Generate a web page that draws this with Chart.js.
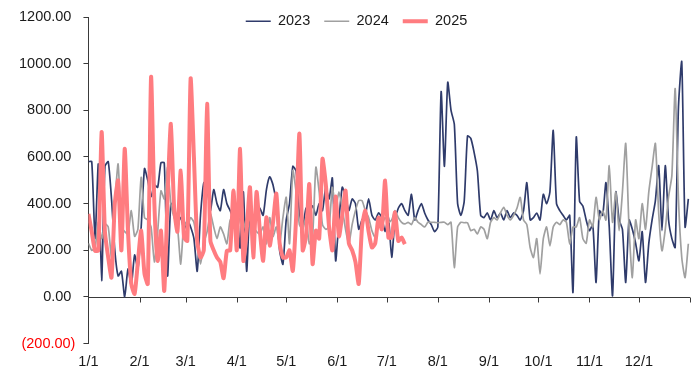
<!DOCTYPE html>
<html>
<head>
<meta charset="utf-8">
<script src="https://cdn.jsdelivr.net/npm/chart.js@4.4.1/dist/chart.umd.min.js"></script>
<style>
  html, body { margin: 0; padding: 0; background: #ffffff; }
  canvas { display: block; }
</style>
</head>
<body>
<canvas id="c" width="700" height="380"></canvas>
<script>
// ---------- data ----------
const seriesNames = ['2023', '2024', '2025'];
const dayStep = 2; // one value every 2 days, starting 1/1

const v2023 = [
  580,580,250,570,70,560,580,420,200,90,
  110,0,120,50,180,120,300,550,500,430,
  480,470,575,575,90,400,350,320,340,290,
  330,300,250,110,350,490,470,370,460,400,
  370,460,400,370,340,370,210,450,110,390,
  170,390,380,350,460,515,480,400,200,140,
  330,400,560,540,360,300,380,370,390,350,
  400,370,470,420,510,155,330,470,430,370,
  420,400,290,330,350,420,350,330,360,340,
  280,340,170,330,380,400,370,350,440,330,
  370,400,360,330,310,280,300,880,560,920,
  800,740,400,350,410,690,680,620,540,350,
  340,360,330,370,340,360,330,370,340,360,
  350,330,370,490,330,340,360,330,440,400,
  450,714,400,370,350,330,350,20,685,410,
  390,330,284,310,62,370,350,490,300,5,
  450,330,290,62,330,290,230,155,280,62,
  230,330,413,563,284,563,330,250,212,814,
  1008,300,420
];

const v2024 = [
  230,200,210,320,250,313,300,170,400,570,
  300,280,270,370,260,290,513,340,330,300,
  150,280,455,420,556,400,340,300,141,320,
  300,340,320,230,141,230,280,356,300,250,
  300,270,228,330,300,290,340,290,340,330,
  300,280,270,300,228,340,260,300,228,340,
  427,228,542,450,310,290,340,228,260,556,
  450,310,290,300,470,380,450,380,290,228,
  310,370,413,413,370,340,284,255,340,310,
  340,320,330,370,340,320,313,320,310,340,
  320,310,300,320,320,320,318,320,320,310,
  320,126,300,320,318,318,284,290,270,300,
  290,250,320,340,330,360,384,350,330,350,
  380,427,330,310,212,169,250,99,250,300,
  219,300,320,310,330,320,228,300,300,340,
  250,230,330,300,427,330,370,330,563,320,
  450,284,450,658,300,83,330,250,400,290,
  450,556,658,360,198,290,430,520,893,420,
  169,83,228
];

const v2025 = [
  356,280,198,200,707,280,169,83,400,499,
  200,635,280,56,13,150,284,100,56,943,
  400,155,284,26,427,742,380,280,542,255,
  240,936,599,240,169,200,828,240,200,169,
  150,80,198,200,456,200,635,155,284,470,
  169,450,284,155,341,220,320,443,230,169,
  169,200,112,340,700,200,260,484,141,284,
  250,592,484,300,200,430,260,350,456,230,
  200,150,56,300,370,280,212,230,340,290,
  499,255,255,363,240,255,226
];

const monthStartDays = [0,31,59,90,120,151,181,212,243,273,304,334];
const monthLabels = ['1/1','2/1','3/1','4/1','5/1','6/1','7/1','8/1','9/1','10/1','11/1','12/1'];
const yearEndDay = 365;
const yMin = -200, yMax = 1200, yStep = 200;

// ---------- styling ----------
const FONT = 'Liberation Sans, Arial, sans-serif';
const axisColor = '#3a3a3a';
const textColor = '#1a1a1a';
const colors = { '2023': '#2f3b6b', '2024': '#a0a0a0', '2025': '#ff7c80' };
const widths = { '2023': 1.7, '2024': 1.7, '2025': 4 };

const toPoints = arr => arr.map((v, i) => ({ x: i * dayStep, y: v }));
const allSeries = [v2023, v2024, v2025];

const datasets = seriesNames.map((name, i) => ({
  label: name,
  data: toPoints(allSeries[i]),
  borderColor: colors[name],
  backgroundColor: colors[name],
  borderWidth: widths[name],
  pointRadius: 0,
  tension: 0.2,
  order: 3 - i
}));

function fmt(v) {
  return v < 0 ? '(' + Math.abs(v).toFixed(2) + ')' : v.toFixed(2) + ' ';
}

const axisPlugin = {
  id: 'zeroAxis',
  beforeLayout(chart) {
    const lg = chart.legend;
    if (lg && !lg._patched) {
      const f = lg.fit;
      lg.fit = function () { f.call(this); this.height = 17; };
      const d = lg.draw;
      lg.draw = function () {
        const b = this.bottom;
        this.bottom = this.top + 40;
        this.ctx.save();
        this.ctx.translate(6, 0);
        d.call(this);
        this.ctx.restore();
        this.bottom = b;
      };
      lg._patched = true;
    }
  },
  beforeDatasetsDraw(chart) {
    const { ctx, chartArea, scales: { x, y } } = chart;
    const y0 = Math.round(y.getPixelForValue(0)) + 0.5;
    ctx.save();
    ctx.strokeStyle = axisColor;
    ctx.lineWidth = 1;
    ctx.beginPath();
    ctx.moveTo(chartArea.left, y0);
    ctx.lineTo(chartArea.right, y0);
    [...monthStartDays, yearEndDay].forEach(d => {
      const px = Math.round(x.getPixelForValue(d)) + 0.5;
      ctx.moveTo(px, y0);
      ctx.lineTo(px, y0 + 5);
    });
    ctx.stroke();
    ctx.restore();
  }
};

new Chart(document.getElementById('c'), {
  type: 'line',
  data: { datasets },
  options: {
    responsive: false,
    animation: false,
    devicePixelRatio: 1,
    layout: { padding: { left: 11, right: 10, top: 0, bottom: 0 } },
    plugins: {
      tooltip: { enabled: false },
      legend: {
        position: 'top',
        align: 'center',
        labels: {
          boxWidth: 25,
          boxHeight: 0,
          padding: 14,
          color: textColor,
          font: { family: FONT, size: 14.5 },
          sort: (a, b) => a.datasetIndex - b.datasetIndex
        }
      }
    },
    scales: {
      x: {
        type: 'linear',
        min: 0,
        max: yearEndDay,
        position: 'bottom',
        grid: { display: false, drawTicks: false },
        border: { display: false },
        afterBuildTicks: scale => { scale.ticks = monthStartDays.map(v => ({ value: v })); },
        afterFit: scale => { scale.height -= 1; },
        ticks: {
          autoSkip: false,
          maxRotation: 0,
          padding: 10,
          color: textColor,
          font: { family: FONT, size: 14.5 },
          callback: v => monthLabels[monthStartDays.indexOf(v)]
        }
      },
      y: {
        type: 'linear',
        min: yMin,
        max: yMax,
        grid: { drawOnChartArea: false, drawTicks: true, tickLength: 5, color: axisColor },
        border: { display: true, color: axisColor, width: 1 },
        ticks: {
          stepSize: yStep,
          padding: 8,
          color: ctx => (ctx.tick && ctx.tick.value < 0 ? '#ff0000' : textColor),
          font: { family: FONT, size: 14.5 },
          callback: v => fmt(v)
        }
      }
    }
  },
  plugins: [axisPlugin]
});
</script>
</body>
</html>
